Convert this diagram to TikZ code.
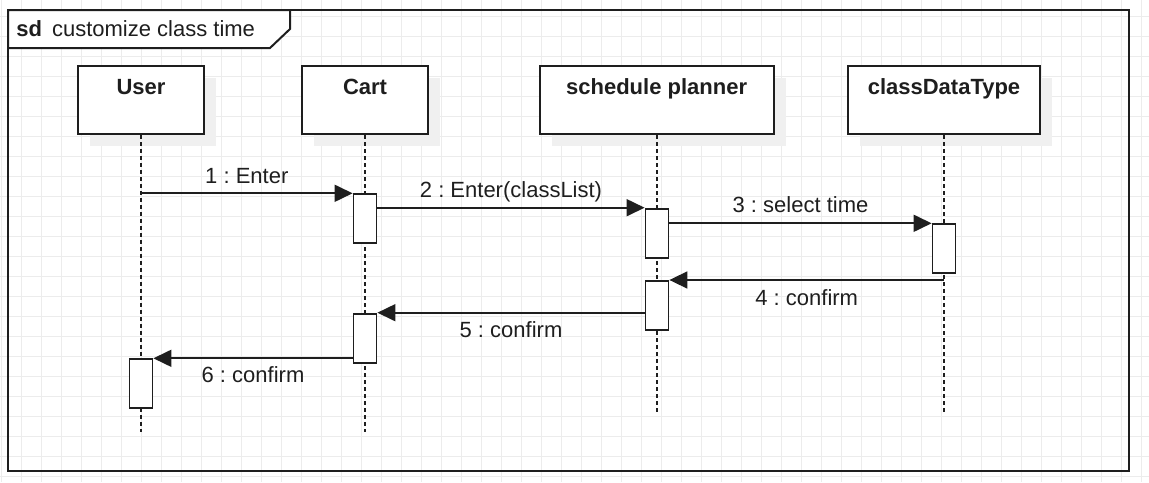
\documentclass[tikz,border=0pt]{standalone}
\usepackage{fontspec}
\setmainfont{Liberation Sans}
\frenchspacing
\usetikzlibrary{arrows.meta, positioning, shadows}
\definecolor{grid_gray}{RGB}{236,236,236}
\definecolor{shadow_gray}{RGB}{240,240,240}
\definecolor{ink}{RGB}{30,30,30}
\tikzstyle{grid_line} = [draw=grid_gray, line width=0.5pt]
\tikzstyle{frame_box} = [draw=ink, line width=1pt]
\tikzstyle{life_head} = [rectangle, draw=ink, line width=1pt, fill=white, minimum height=34pt, inner ysep=0pt, text height=14.4pt, text depth=19.6pt, font=\fontsize{11}{13}\selectfont\bfseries, text=ink, general shadow={fill=shadow_gray, shadow xshift=6pt, shadow yshift=-6pt}]
\tikzstyle{life_line} = [draw=ink, line width=0.9pt, dash pattern=on 2pt off 1.5pt]
\tikzstyle{act_box} = [rectangle, draw=ink, line width=0.9pt, fill=white, minimum width=11.5pt, minimum height=24.5pt, inner sep=0pt, anchor=north]
\tikzstyle{msg_arrow} = [draw=ink, line width=0.85pt, -{Triangle[length=9pt, width=8.5pt]}]
\tikzstyle{msg_label} = [font=\fontsize{11}{13}\selectfont, text=ink, inner sep=0pt, text height=7.9pt, text depth=0pt]

\begin{document}
\begin{tikzpicture}[x=0.5pt, y=-0.5pt]
\useasboundingbox (0,0) rectangle (1149,482);
% Hintergrundraster
\foreach \gx in {1.7,21.7,...,1141.7} \draw [grid_line] (\gx,0) -- (\gx,482);
\foreach \gy in {16.7,36.7,...,476.7} \draw [grid_line] (0,\gy) -- (1149,\gy);

% frame with title tab
\draw [frame_box] (8,10) rectangle (1129,471);
\draw [frame_box, fill=white] (8,10) -- (290,10) -- (290,29) -- (270,48) -- (8,48) -- cycle;
\node (frame_title) [anchor=west, msg_label] at (16,29) {\textbf{sd}\hspace{5pt}customize class time};

% lifeline heads
\node (user) [life_head, minimum width=63pt] at (141,100) {User};
\node (cart) [life_head, minimum width=63pt] at (365,100) {Cart};
\node (planner) [life_head, minimum width=117pt] at (656.6,100) {schedule planner};
\node (datatype) [life_head, minimum width=96pt] at (944,100) {classDataType};

\coordinate (user_end) at (141,432);
\coordinate (cart_end) at (365,432);
\coordinate (planner_end) at (657,413);
\coordinate (datatype_end) at (944,413);
\draw [life_line] (user) -- (user_end);
\draw [life_line] (cart) -- (cart_end);
\draw [life_line] (planner.south -| planner_end) -- (planner_end);
\draw [life_line] (datatype) -- (datatype_end);

% activations
\node (cart_act1) [act_box] at (365,193.3) {};
\node (planner_act1) [act_box] at (657,207.7) {};
\node (datatype_act) [act_box] at (944,223.3) {};
\node (planner_act2) [act_box] at (657,280) {};
\node (cart_act2) [act_box] at (365,312.7) {};
\node (user_act) [act_box] at (141,358.3) {};

% Nachrichten
\draw [msg_arrow] (user.south |- cart_act1.north) -- node[msg_label, yshift=8.8pt] {1 : Enter} (cart_act1.north west);
\draw [msg_arrow] (cart_act1.east |- planner_act1.north) -- node[msg_label, yshift=9.3pt] {2 : Enter(classList)} (planner_act1.north west);
\draw [msg_arrow] (planner_act1.east |- datatype_act.north) -- node[msg_label, yshift=9.3pt] {3 : select time} (datatype_act.north west);
\draw [msg_arrow] (datatype.south |- planner_act2.north) -- node[msg_label, yshift=-8.7pt] {4 : confirm} (planner_act2.north east);
\draw [msg_arrow] (planner_act2.west |- cart_act2.north) -- node[msg_label, yshift=-8.3pt] {5 : confirm} (cart_act2.north east);
\draw [msg_arrow] (cart_act2.west |- user_act.north) -- node[msg_label, yshift=-8pt] {6 : confirm} (user_act.north east);
\end{tikzpicture}
\end{document}
